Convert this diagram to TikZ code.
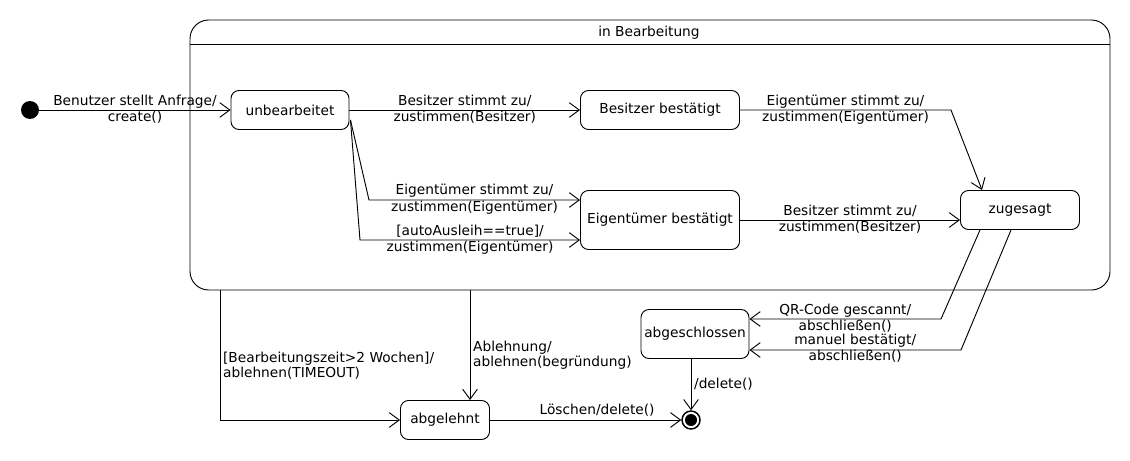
\documentclass[tikz,border=0pt]{standalone}
\usepackage{fontspec}
\setmainfont{DejaVu Sans}
\usetikzlibrary{positioning,calc,arrows.meta}

\begin{document}
\begin{tikzpicture}[x=0.75pt, y=-0.75pt, line width=0.7pt,
  every node/.style={font=\fontsize{10.3}{11.2}\selectfont},
  st/.style={draw, rounded corners=6pt, minimum height=29.25pt, inner sep=2pt},
  lbl/.style={inner sep=0pt, text height=7.5pt, text depth=2pt},
  lbl2/.style={inner sep=0pt, align=left},
  tr/.style={draw, -{Straight Barb[length=7.5pt,width=11pt]}}]
\useasboundingbox (0,0) rectangle (1130,460);
% composite state
\node[draw, rounded corners=14pt, minimum width=690pt, minimum height=202.5pt, inner sep=0pt] (bearb) at (650,155) {};
\node (titel) at (649,33) {in Bearbeitung};
\draw ($(bearb.west)+(0,-111)$) -- ($(bearb.east)+(0,-111)$);
% states
\node[circle, fill=black, minimum size=13.5pt, inner sep=0pt] (init) at (30,110) {};
\node[st, minimum width=88.5pt] (unb) at (290,110) {unbearbeitet};
\node[st, minimum width=119.25pt] (bb) at (660,110) {Besitzer bestätigt};
\node[st, minimum width=119.25pt, minimum height=44.25pt] (eb) at (660,220) {Eigentümer bestätigt};
\node[st, minimum width=89.25pt] (zug) at (1020,210) {zugesagt};
\node[st, minimum width=81pt, minimum height=36.75pt] (abs) at (695,334) {abgeschlossen};
\node[st, minimum width=66.75pt] (abl) at (445,420) {abgelehnt};
\node[circle, draw, line width=1.1pt, fill=white, minimum size=13.5pt, inner sep=0pt] (fin) at (691,420) {};
\fill (fin) circle (4.5pt);
% transitions
\draw[tr] (init) -- (unb) node[lbl, midway, yshift=6pt] {Benutzer stellt Anfrage/} node[lbl, midway, yshift=-6pt] {create()};
\draw[tr] (unb) -- (bb) node[lbl, midway, yshift=6pt] {Besitzer stimmt zu/} node[lbl, midway, yshift=-6pt] {zustimmen(Besitzer)};
\draw[tr] ($(unb.east)+(1,10)$) -- (369,200) -- ($(eb.west)+(0,-20)$) node[lbl, midway, yshift=7pt] {Eigentümer stimmt zu/} node[lbl, midway, yshift=-6pt] {zustimmen(Eigentümer)};
\draw[tr] ($(unb.east)+(1,10)$) -- (360,240) -- ($(eb.west)+(0,20)$) node[lbl, midway, yshift=6pt] {[autoAusleih==true]/} node[lbl, midway, yshift=-5.5pt] {zustimmen(Eigentümer)};
\draw[tr] (bb) -- (951,110) node[lbl, midway, yshift=6pt] {Eigentümer stimmt zu/} node[lbl, midway, yshift=-6pt] {zustimmen(Eigentümer)} -- ($(zug.north)+(-38,0)$);
\draw[tr] (eb) -- (eb -| zug.west) node[lbl, midway, yshift=6.5pt] {Besitzer stimmt zu/} node[lbl, midway, yshift=-5.5pt] {zustimmen(Besitzer)};
\draw[tr] ($(zug.south)+(-40,0)$) -- (941,319) -- ($(abs.east)+(0,-15)$) node[lbl, midway, yshift=6pt] {QR-Code gescannt/} node[lbl, midway, yshift=-6pt] {abschließen()};
\draw[tr] ($(zug.south)+(-9,0)$) -- (961,350) -- ($(abs.east)+(0,16)$) node[lbl, midway, yshift=6.75pt] {manuel bestätigt/} node[lbl, midway, yshift=-5.25pt] {abschließen()};
\draw[tr] (abs.south -| fin) -- (fin) node[lbl, midway, right=2pt] {/delete()};
\draw[tr] (abl) -- (fin) node[lbl, pos=0.56, yshift=7pt] {Löschen/delete()};
\draw[tr] ($(bearb.south)+(-430,0)$) |- (abl) node[lbl2, pos=0.29, right=2pt] {[Bearbeitungszeit>2 Wochen]/\\ablehnen(TIMEOUT)};
\draw[tr] ($(bearb.south)+(-180,0)$) -- ($(abl.north)+(25,0)$) node[lbl2, pos=0.59, right=2pt] {Ablehnung/\\ablehnen(begründung)};
\end{tikzpicture}
\end{document}
